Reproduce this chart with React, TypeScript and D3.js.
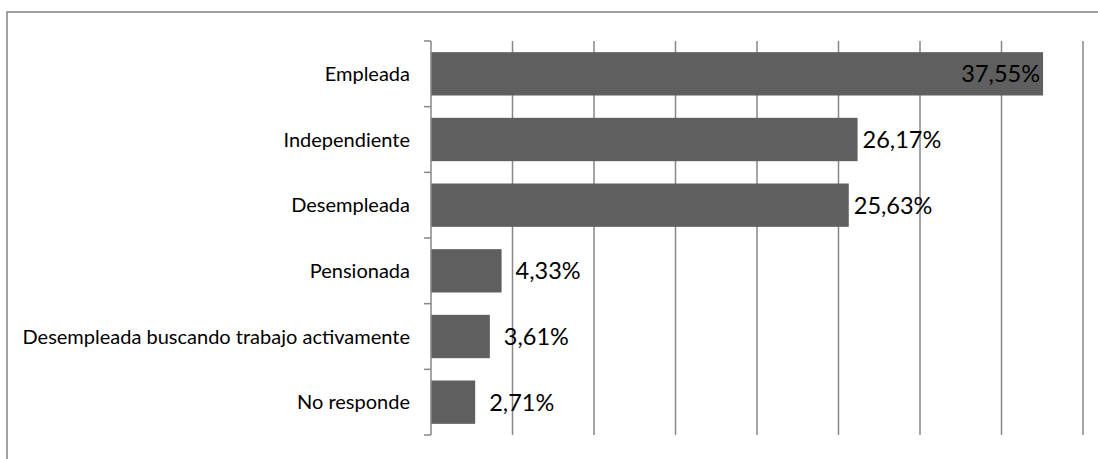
import React from "react";
import * as d3 from "d3";

const categories = [
  "Empleada",
  "Independiente",
  "Desempleada",
  "Pensionada",
  "Desempleada buscando trabajo activamente",
  "No responde",
];
const values = [37.55, 26.17, 25.63, 4.33, 3.61, 2.71];
const xTicks = [0, 5, 10, 15, 20, 25, 30, 35, 40];

const W = 1098;
const H = 459;
const plot = { left: 431, right: 1083, top: 41, bottom: 435 };
const FONT = "Lato, 'Open Sans', sans-serif";
const GRID = "#878787";

export default function App() {
  const x = d3.scaleLinear().domain([0, 40]).range([plot.left, plot.right]);
  const y = d3
    .scaleBand<string>()
    .domain(categories)
    .range([plot.top, plot.bottom])
    .paddingInner(0.34)
    .paddingOuter(0.17);
  const step = (plot.bottom - plot.top) / categories.length;
  const fmt = (v: number) => v.toFixed(2).replace(".", ",") + "%";

  return (
    <svg
      width={W}
      height={H}
      style={{ position: "absolute", left: 0, top: 0, background: "#fff" }}
    >
      <rect x={7} y={12} width={W + 10} height={H + 10} fill="#fff" stroke="#8a8a8a" strokeWidth={1.6} />
      {xTicks.slice(1).map((t) => (
        <line key={t} x1={x(t)} x2={x(t)} y1={plot.top} y2={plot.bottom} stroke={GRID} strokeWidth={1.5} />
      ))}
      {categories.map((c, i) => (
        <rect
          key={c}
          x={x(0)}
          y={y(c)!}
          width={x(values[i]) - x(0)}
          height={y.bandwidth()}
          fill="#5f5f5f"
        />
      ))}
      <line x1={plot.left} x2={plot.left} y1={plot.top} y2={plot.bottom} stroke={GRID} strokeWidth={1.5} />
      {d3.range(categories.length + 1).map((i) => (
        <line
          key={i}
          x1={plot.left - 7}
          x2={plot.left}
          y1={plot.top + i * step}
          y2={plot.top + i * step}
          stroke={GRID}
          strokeWidth={1.5}
        />
      ))}
      {categories.map((c) => (
        <text
          key={c}
          x={plot.left - 21}
          y={y(c)! + y.bandwidth() / 2}
          dy="0.35em"
          textAnchor="end"
          fontFamily={FONT}
          fontSize={20}
          fill="#000"
        >
          {c}
        </text>
      ))}
      {categories.map((c, i) => {
        const end = x(values[i]);
        const inside = end + 80 > plot.right;
        const gap = values[i] > 20 ? 5 : 14;
        return (
          <text
            key={c}
            x={inside ? end - 3 : end + gap}
            y={y(c)! + y.bandwidth() / 2}
            dy="0.36em"
            textAnchor={inside ? "end" : "start"}
            fontFamily={FONT}
            fontSize={23.5}
            fill="#000"
          >
            {fmt(values[i])}
          </text>
        );
      })}
    </svg>
  );
}
